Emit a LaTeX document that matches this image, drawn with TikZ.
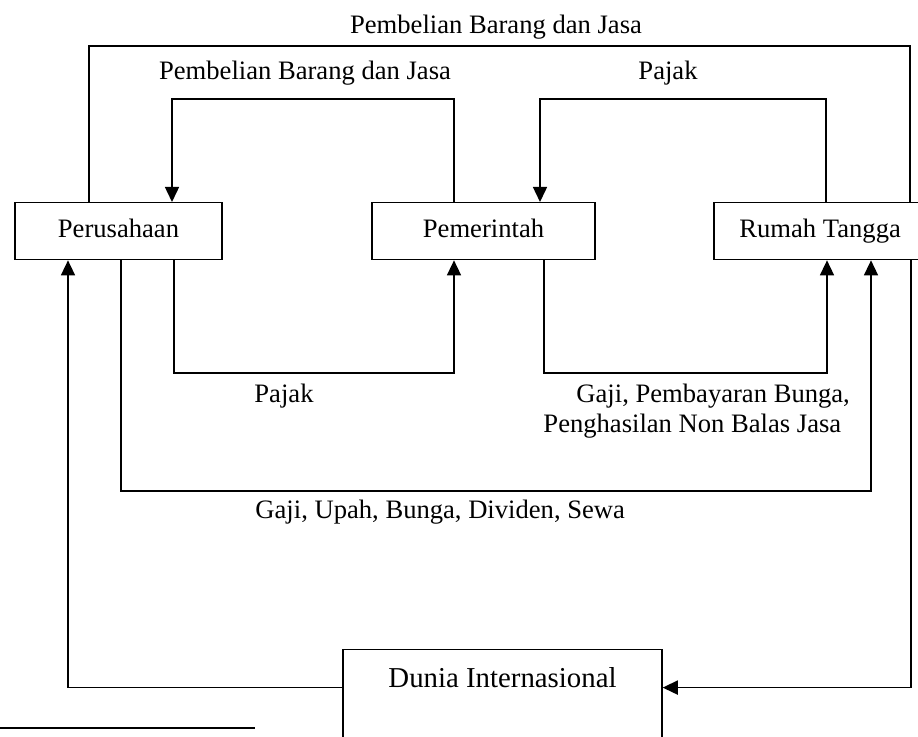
\documentclass[tikz,border=0pt]{standalone}
\usepackage{fontspec}
\setmainfont{Liberation Serif}
\usetikzlibrary{arrows.meta}

\begin{document}
\begin{tikzpicture}[x=0.451pt,y=-0.451pt,
  sector/.style={draw,line width=0.6pt,inner xsep=0pt,inner ysep=3pt,
    text height=12.8pt,text depth=6.9pt,anchor=north,font=\fontsize{12}{14}\selectfont},
  flow/.style={line width=0.8pt,-{Triangle[length=6.8pt,width=6.3pt]}},
  link/.style={line width=0.8pt},
  lbl/.style={font=\fontsize{12}{14}\selectfont,inner sep=0pt}]
\useasboundingbox (0,0) rectangle (918,736);

% ------------------------------------------------ sectors
\node[sector,minimum width=207*0.451pt] (per) at (118.5,202) {Perusahaan};
\node[sector,minimum width=223*0.451pt] (pem) at (483.5,202) {Pemerintah};
\node[sector,minimum width=230*0.451pt] (rt)  at (829,202)   {\hspace*{-8pt}Rumah Tangga};
\node[sector,minimum width=319*0.451pt,text height=14.1pt,text depth=30pt,
      font=\fontsize{13}{15}\selectfont] (dunia) at (502.5,649) {Dunia Internasional};

% ------------------------------------------------ flows above the boxes
\draw[link] (89,0 |- per.north) -- (89,46) -| (910,0 |- rt.north);
\draw[flow] (454,0 |- pem.north) -- (454,99) -| (172,0 |- per.north);
\draw[flow] (826,0 |- rt.north) -- (826,99) -| (540,0 |- pem.north);

% ------------------------------------------------ flows below the boxes
\draw[flow] (174,0 |- per.south) -- (174,373) -| (454,0 |- pem.south);
\draw[flow] (544,0 |- pem.south) -- (544,373) -| (827,0 |- rt.south);
\draw[flow] (121,0 |- per.south) -- (121,491) -| (871,0 |- rt.south);

% ------------------------------------------------ rest of the world
\draw[flow] (dunia.base west) -| (68,0 |- per.south);
\draw[flow] (911,0 |- rt.south) |- (dunia.base east);

% ------------------------------------------------ labels
\node[lbl,anchor=base] (beli1) at (496,33) {Pembelian Barang dan Jasa};
\node[lbl,anchor=base] (beli2) at (305,79) {Pembelian Barang dan Jasa};
\node[lbl,anchor=base] (pajak1) at (668,79) {Pajak};
\node[lbl,anchor=base] (pajak2) at (284,402) {Pajak};
\node[lbl,anchor=base west] (gaji1) at (576,402) {Gaji, Pembayaran Bunga,};
\node[lbl,anchor=base west] (gaji2) at (543,432) {Penghasilan Non Balas Jasa};
\node[lbl,anchor=base west] (gaji3) at (255,518) {Gaji, Upah, Bunga, Dividen, Sewa};

% footnote rule
\draw[link] (0,728) -- (255,728);
\end{tikzpicture}
\end{document}
